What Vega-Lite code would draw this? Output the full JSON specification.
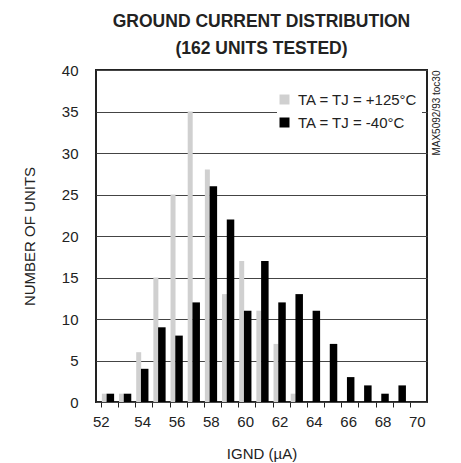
{
  "$schema": "https://vega.github.io/schema/vega-lite/v6.json",
  "width": 331,
  "height": 332,
  "autosize": {"type": "none"},
  "padding": {"top": 70, "left": 96, "right": 34, "bottom": 61},
  "background": "white",
  "config": {
    "font": "Liberation Sans",
    "view": {"stroke": "#222222", "strokeWidth": 2}
  },
  "title": {
    "text": ["GROUND CURRENT DISTRIBUTION", "(162 UNITS TESTED)"],
    "font": "Liberation Sans",
    "fontSize": 17.5,
    "fontWeight": "bold",
    "lineHeight": 27,
    "color": "#222222",
    "anchor": "middle",
    "offset": 6
  },
  "data": {
    "values": [
      {"current": 52, "temp": "+125°C", "units": 1},
      {"current": 53, "temp": "+125°C", "units": 1},
      {"current": 54, "temp": "+125°C", "units": 6},
      {"current": 55, "temp": "+125°C", "units": 15},
      {"current": 56, "temp": "+125°C", "units": 25},
      {"current": 57, "temp": "+125°C", "units": 35},
      {"current": 58, "temp": "+125°C", "units": 28},
      {"current": 59, "temp": "+125°C", "units": 13},
      {"current": 60, "temp": "+125°C", "units": 17},
      {"current": 61, "temp": "+125°C", "units": 11},
      {"current": 62, "temp": "+125°C", "units": 7},
      {"current": 63, "temp": "+125°C", "units": 1},
      {"current": 52, "temp": "-40°C", "units": 1},
      {"current": 53, "temp": "-40°C", "units": 1},
      {"current": 54, "temp": "-40°C", "units": 4},
      {"current": 55, "temp": "-40°C", "units": 9},
      {"current": 56, "temp": "-40°C", "units": 8},
      {"current": 57, "temp": "-40°C", "units": 12},
      {"current": 58, "temp": "-40°C", "units": 26},
      {"current": 59, "temp": "-40°C", "units": 22},
      {"current": 60, "temp": "-40°C", "units": 11},
      {"current": 61, "temp": "-40°C", "units": 17},
      {"current": 62, "temp": "-40°C", "units": 12},
      {"current": 63, "temp": "-40°C", "units": 13},
      {"current": 64, "temp": "-40°C", "units": 11},
      {"current": 65, "temp": "-40°C", "units": 7},
      {"current": 66, "temp": "-40°C", "units": 3},
      {"current": 67, "temp": "-40°C", "units": 2},
      {"current": 68, "temp": "-40°C", "units": 1},
      {"current": 69, "temp": "-40°C", "units": 2}
    ]
  },
  "encoding": {
    "x": {
      "field": "current",
      "type": "quantitative",
      "scale": {"domain": [51.6, 70.3], "nice": false, "zero": false},
      "axis": {
        "values": [52, 53, 54, 55, 56, 57, 58, 59, 60, 61, 62, 63, 64, 65, 66, 67, 68, 69, 70],
        "labelExpr": "datum.value % 2 == 0 ? datum.label : ''",
        "tickOffset": -7,
        "labelOffset": {"condition": {"test": "datum.value == 52", "value": 0}, "value": 7},
        "tickSize": 5,
        "tickColor": "#222222",
        "tickWidth": 1,
        "grid": false,
        "domain": false,
        "labelFlush": false,
        "labelOverlap": false,
        "labelFont": "Liberation Sans",
        "labelFontSize": 15,
        "labelColor": "#222222",
        "labelPadding": 7,
        "title": "IGND (µA)",
        "titleFont": "Liberation Sans",
        "titleFontSize": 15,
        "titleFontWeight": "normal",
        "titleColor": "#222222",
        "titlePadding": 17
      }
    },
    "color": {
      "field": "temp",
      "type": "nominal",
      "scale": {"domain": ["+125°C", "-40°C"], "range": ["#d0d0d0", "#000000"]},
      "legend": {
        "title": null,
        "orient": "none",
        "legendX": 181,
        "legendY": 22,
        "symbolType": "square",
        "symbolSize": 100,
        "symbolStrokeWidth": 0,
        "labelExpr": "'TA = TJ =  ' + datum.label",
        "labelFont": "Liberation Sans",
        "labelFontSize": 15,
        "labelColor": "#222222",
        "labelOffset": 6,
        "rowPadding": 7,
        "padding": 0,
        "fillColor": "white"
      }
    }
  },
  "layer": [
    {
      "transform": [{"filter": "datum.temp == '+125°C'"}],
      "mark": {"type": "bar", "width": 5, "xOffset": -3.5},
      "encoding": {
        "y": {
          "field": "units",
          "type": "quantitative",
          "scale": {"domain": [0, 40], "nice": false},
          "axis": {
            "orient": "left",
            "values": [0, 5, 10, 15, 20, 25, 30, 35, 40],
            "ticks": false,
            "domain": false,
            "grid": true,
            "gridColor": "#444444",
            "gridWidth": 1,
            "labelFont": "Liberation Sans",
            "labelFontSize": 15,
            "labelColor": "#222222",
            "labelPadding": 18,
            "title": "NUMBER OF UNITS",
            "titleFont": "Liberation Sans",
            "titleFontSize": 15,
            "titleFontWeight": "normal",
            "titleColor": "#222222",
            "titlePadding": 24
          }
        }
      }
    },
    {
      "transform": [{"filter": "datum.temp == '-40°C'"}],
      "mark": {"type": "bar", "width": 7.5, "xOffset": 2.5},
      "encoding": {
        "y": {
          "field": "units",
          "type": "quantitative",
          "scale": {"domain": [0, 40], "nice": false},
          "axis": {
            "orient": "right",
            "labels": false,
            "ticks": false,
            "domain": false,
            "grid": false,
            "title": "MAX5092/93 toc30",
            "titleFont": "Liberation Sans",
            "titleFontSize": 10,
            "titleFontWeight": "normal",
            "titleColor": "#222222",
            "titleAngle": 270,
            "titleAnchor": "end",
            "titlePadding": 14
          }
        }
      }
    }
  ],
  "resolve": {"axis": {"y": "independent"}}
}
